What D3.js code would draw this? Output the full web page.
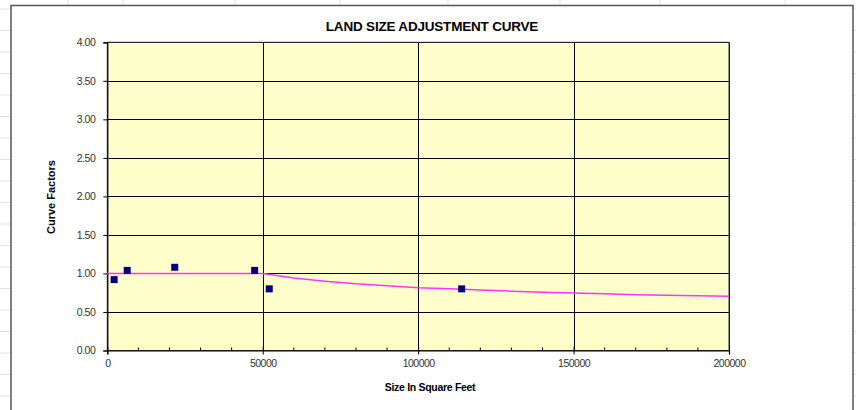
<!DOCTYPE html>
<html><head><meta charset="utf-8">
<script src="https://cdn.jsdelivr.net/npm/d3@7"></script>
<style>html,body{margin:0;padding:0;background:#fff;}svg{display:block;}</style>
</head><body>
<svg id="c" width="856" height="410"></svg>
<script>
const title = "LAND SIZE ADJUSTMENT CURVE";
const xTitle = "Size In  Square Feet";
const yTitle = "Curve Factors";
const xTicks = [0, 50000, 100000, 150000, 200000];
const yTicks = [0, 0.5, 1, 1.5, 2, 2.5, 3, 3.5, 4];
// observed sales (points)
const saleSize = [2200, 6400, 21700, 47400, 52100, 114000];
const saleFactor = [0.92, 1.04, 1.08, 1.04, 0.80, 0.80];
// adjustment curve
const curveSize = [0, 10000, 20000, 30000, 40000, 50000, 60000, 70000, 80000, 90000, 100000, 110000, 120000, 130000, 140000, 150000, 160000, 170000, 180000, 190000, 200000];
const curveFactor = [1.00, 1.00, 1.00, 1.00, 1.00, 1.00, 0.94, 0.90, 0.865, 0.84, 0.815, 0.80, 0.785, 0.77, 0.755, 0.745, 0.735, 0.725, 0.718, 0.71, 0.705];

const svg = d3.select("#c");
const W = 856, H = 410;
const font = "'Liberation Sans', Arial, sans-serif";

// spreadsheet background grid (decoration)
const bg = svg.append("g");
d3.range(9, H, 21.5).forEach(y => bg.append("line").attr("x1",0).attr("x2",W).attr("y1",y).attr("y2",y).attr("stroke","#e2e2e2"));
[68,123,235,340,448,560,660,785].forEach(x => bg.append("line").attr("x1",x).attr("x2",x).attr("y1",0).attr("y2",H).attr("stroke","#e2e2e2"));

// chart area
svg.append("rect").attr("x",11).attr("y",5.5).attr("width",842).attr("height",420)
  .attr("fill","#fff").attr("stroke","#555").attr("stroke-width",1.5);

const L = 107.3, R = 729, T = 42.3, B = 350.5;
const x = d3.scaleLinear().domain([0, 200000]).range([L, R]);
const y = d3.scaleLinear().domain([0, 4]).range([B, T]);

svg.append("rect").attr("x",L).attr("y",T).attr("width",R-L).attr("height",B-T).attr("fill","#ffffcc");

// gridlines
svg.append("g").selectAll("line").data(yTicks.slice(1)).join("line")
  .attr("x1",L).attr("x2",R).attr("y1",d=>Math.round(y(d))+0.5).attr("y2",d=>Math.round(y(d))+0.5)
  .attr("stroke","#000").attr("stroke-width",1);
svg.append("g").selectAll("line").data(xTicks.slice(1)).join("line")
  .attr("y1",T).attr("y2",B).attr("x1",d=>Math.round(x(d))+0.5).attr("x2",d=>Math.round(x(d))+0.5)
  .attr("stroke","#000").attr("stroke-width",1);
svg.append("rect").attr("x",L).attr("y",T).attr("width",R-L).attr("height",B-T)
  .attr("fill","none").attr("stroke","#333").attr("stroke-width",1);

// x axis
const xAxis = d3.axisBottom(x).tickValues(xTicks).tickSize(4).tickPadding(5).tickFormat(d3.format("d"));
const gx = svg.append("g").attr("transform",`translate(0,${B})`).call(xAxis);
gx.attr("font-size",null).attr("font-family",null);
gx.select(".domain").attr("stroke","#000").attr("stroke-width",1.2);
gx.selectAll(".tick line").attr("stroke","#000").attr("y1",-4);
gx.selectAll("text").style("font-family",font).style("font-size","10.5px").attr("fill","#333").style("letter-spacing","-0.5px");
// minor ticks
svg.append("g").selectAll("line").data(d3.range(10000,200000,10000).filter(v=>v%50000)).join("line")
  .attr("x1",d=>x(d)).attr("x2",d=>x(d)).attr("y1",B).attr("y2",B-3).attr("stroke","#000");

// y axis
const yAxis = d3.axisLeft(y).tickValues(yTicks).tickSize(4).tickPadding(8).tickFormat(d3.format(".2f"));
const gy = svg.append("g").attr("transform",`translate(${L},0)`).call(yAxis);
gy.attr("font-size",null).attr("font-family",null);
gy.select(".domain").attr("stroke","#000").attr("stroke-width",1.2);
gy.selectAll(".tick line").attr("stroke","#000");
gy.selectAll("text").style("font-family",font).style("font-size","10.5px").attr("fill","#333").style("letter-spacing","-0.5px");

// curve
const curve = curveSize.map((s,i)=>[s,curveFactor[i]]);
svg.append("path").datum(curve)
  .attr("d", d3.line().x(d=>x(d[0])).y(d=>y(d[1])))
  .attr("fill","none").attr("stroke","#ff33ff").attr("stroke-width",1.5);

// points
svg.append("g").selectAll("rect").data(saleSize.map((s,i)=>[s,saleFactor[i]])).join("rect")
  .attr("x",d=>x(d[0])-3.5).attr("y",d=>y(d[1])-3.5).attr("width",7).attr("height",7)
  .attr("fill","#000080");

// titles
svg.append("text").attr("x",432).attr("y",31).attr("text-anchor","middle")
  .style("font-family",font).style("font-weight","bold").style("font-size","13.5px").attr("fill","#000")
  .style("letter-spacing","-0.2px").text(title);
svg.append("text").attr("x",430).attr("y",391).attr("text-anchor","middle")
  .style("font-family",font).style("font-weight","bold").style("font-size","10.5px").attr("fill","#000")
  .style("letter-spacing","-0.3px").text(xTitle);
svg.append("text").attr("transform","translate(55,197) rotate(-90)").attr("text-anchor","middle")
  .style("font-family",font).style("font-weight","bold").style("font-size","11px").attr("fill","#000").text(yTitle);
</script>
</body></html>
